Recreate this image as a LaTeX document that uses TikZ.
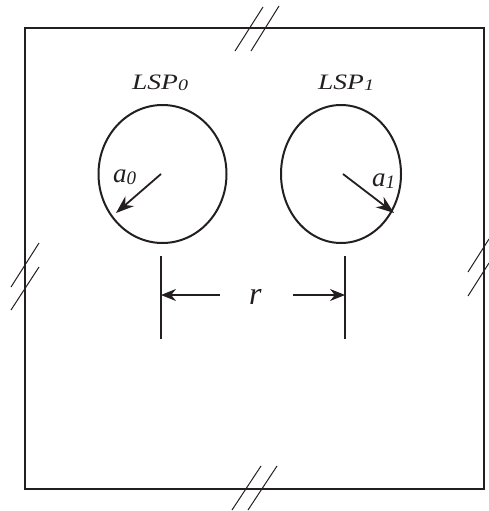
\documentclass[tikz,border=0pt]{standalone}
\usepackage{fontspec}
\setmainfont{Liberation Serif}
\usetikzlibrary{arrows.meta}
\definecolor{ink}{HTML}{231F20}
\tikzset{
  frame/.style={draw=ink, line width=2pt},
  hole/.style={draw=ink, line width=2pt},
  cutmark/.style={draw=ink, line width=1pt},
  extline/.style={draw=ink, line width=1.1pt},
  radius arrow/.style={draw=ink, line width=1.8pt, -{Stealth[length=18pt,width=13pt]}},
  dim arrow/.style={draw=ink, line width=1.1pt, -{Stealth[length=15pt,width=12pt]}},
  lsplabel/.style={inner sep=0pt, anchor=base west, text=ink, font=\fontsize{22}{22}\selectfont\itshape},
  radlabel/.style={inner sep=0pt, anchor=base west, text=ink, font=\fontsize{27}{27}\selectfont\itshape},
}
% wide italic label with a lowered subscript digit
\newcommand{\lsptext}[1]{\scalebox{1.25}[1]{LSP\raisebox{-1pt}{\fontsize{16}{16}\selectfont #1}}}
\newcommand{\radsub}[1]{\raisebox{-2pt}{\fontsize{19}{19}\selectfont #1}}
\begin{document}
\begin{tikzpicture}[x=1pt, y=-1pt]
  \useasboundingbox (0,0) rectangle (489,511);
  % outer boundary of the domain
  \draw[frame] (25,28) rectangle (484,489);
  % break marks on the four sides
  \draw[cutmark] (235,51) -- (263,7) (251,51) -- (279,6);
  \draw[cutmark] (232,510) -- (261,466) (248,510) -- (277,466);
  \draw[cutmark] (11,287) -- (39,243) (11,310) -- (39,267);
  \draw[cutmark] (468,272) -- (489,239) (468,296) -- (489,263);
  % the two conductors
  \coordinate (c0) at (162.5,174);
  \coordinate (c1) at (341,174);
  \draw[hole] (c0) ellipse [x radius=64, y radius=69];
  \draw[hole] (c1) ellipse [x radius=60, y radius=69];
  % labels
  \node[lsplabel] (l0) at (132,89) {\lsptext{0}};
  \node[lsplabel] (l1) at (318,89) {\lsptext{1}};
  % radii
  \coordinate (r0s) at (161,174);
  \coordinate (r0e) at (116,213);
  \coordinate (r1s) at (343,174);
  \coordinate (r1e) at (394,213);
  \draw[radius arrow] (r0s) -- (r0e);
  \draw[radius arrow] (r1s) -- (r1e);
  \node[radlabel] (a0) at (113,182) {a\radsub{0}};
  \node[radlabel] (a1) at (372,186) {a\radsub{1}};
  % centre-to-centre spacing
  \coordinate (e0t) at (161,256);
  \coordinate (e0b) at (161,339);
  \coordinate (e1t) at (345,256);
  \coordinate (e1b) at (345,339);
  \draw[extline] (e0t) -- (e0b);
  \draw[extline] (e1t) -- (e1b);
  \coordinate (d0) at (220,295);
  \coordinate (d1) at (293,295);
  \draw[dim arrow] (d0) -- (e0t |- d0);
  \draw[dim arrow] (d1) -- (e1t |- d1);
  \node[radlabel, font=\fontsize{32}{32}\selectfont\itshape] (rr) at (249,304) {r};
\end{tikzpicture}
\end{document}
